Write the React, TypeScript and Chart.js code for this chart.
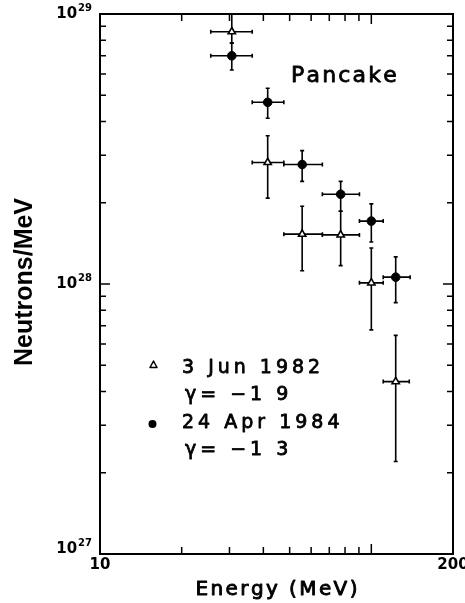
import React, { useEffect, useRef } from "react";
import { Chart, registerables } from "chart.js";

Chart.register(...registerables);

// ---- Text ----
const series1Label = "3 Jun 1982";
const series1Gamma = "γ= −1 9";
const series2Label = "24 Apr 1984";
const series2Gamma = "γ= −1 3";
const annotationText = "Pancake";
const xTitle = "Energy (MeV)";
const yTitle = "Neutrons/MeV";

// ---- Data: 3 Jun 1982 (open triangles) ----
const junEnergy = [30.6, 41.5, 55.6, 77.1, 100, 123];
const junFlux = [8.6e28, 2.82e28, 1.53e28, 1.52e28, 1.01e28, 4.35e27];
const junEnergyLo = [25.6, 36.4, 47.6, 66, 90.4, 110.6];
const junEnergyHi = [36.4, 47.6, 66, 90.4, 110.6, 138];
const junFluxLo = [7.8e28, 2.08e28, 1.12e28, 1.17e28, 6.76e27, 2.2e27];
const junFluxHi = [1.0e29, 3.54e28, 1.94e28, 1.86e28, 1.36e28, 6.45e27];

// ---- Data: 24 Apr 1984 (filled circles) ----
const aprEnergy = [30.6, 41.5, 55.6, 77.1, 100, 123];
const aprFlux = [7.0e28, 4.71e28, 2.77e28, 2.15e28, 1.71e28, 1.06e28];
const aprEnergyLo = [25.6, 36.4, 47.6, 66, 90.4, 110.6];
const aprEnergyHi = [36.4, 47.6, 66, 90.4, 110.6, 139];
const aprFluxLo = [6.2e28, 4.11e28, 2.4e28, 1.86e28, 1.43e28, 8.53e27];
const aprFluxHi = [7.8e28, 5.31e28, 3.12e28, 2.4e28, 1.98e28, 1.26e28];

// ---- Axes ----
const xMin = 10;
const xMax = 200;
const yMin = 1e27;
const yMax = 1e29;
const xTickValues = [20, 30, 40, 50, 60, 70, 80, 90, 100];
const xMajorTicks = [100];
const yTickValues = [
  2e27, 3e27, 4e27, 5e27, 6e27, 7e27, 8e27, 9e27, 1e28,
  2e28, 3e28, 4e28, 5e28, 6e28, 7e28, 8e28, 9e28,
];
const yMajorTicks = [1e28];
const xLabelValues = [10, 200];
const xLabelTexts = ["10", "200"];
const yLabelValues = [1e27, 1e28, 1e29];
const yLabelExponents = ["27", "28", "29"];

function buildPoints(xs: number[], ys: number[], xl: number[], xh: number[], yl: number[], yh: number[]) {
  return xs.map((x, i) => ({ x, y: ys[i], xlo: xl[i], xhi: xh[i], ylo: yl[i], yhi: yh[i] }));
}

function drawSpaced(
  ctx: CanvasRenderingContext2D,
  text: string,
  x: number,
  y: number,
  spacing: number,
  align: "left" | "center" = "left",
  weight = 0.7
) {
  const chars = Array.from(text);
  const widths = chars.map((c) => ctx.measureText(c).width);
  const total = widths.reduce((a, b) => a + b, 0) + spacing * (chars.length - 1);
  let cx = align === "center" ? x - total / 2 : x;
  ctx.textAlign = "left";
  ctx.lineWidth = weight;
  ctx.lineJoin = "round";
  chars.forEach((c, i) => {
    ctx.fillText(c, cx, y);
    if (weight > 0) ctx.strokeText(c, cx, y);
    cx += widths[i] + spacing;
  });
}

const errorBarPlugin = {
  id: "errorBars",
  beforeDatasetsDraw(chart: any) {
    const ctx: CanvasRenderingContext2D = chart.ctx;
    const xs = chart.scales.x;
    const ys = chart.scales.y;
    const cap = 2;
    ctx.save();
    ctx.strokeStyle = "#000";
    ctx.lineWidth = 1.6;
    chart.data.datasets.forEach((ds: any) => {
      ds.data.forEach((p: any) => {
        const px = xs.getPixelForValue(p.x);
        const py = ys.getPixelForValue(p.y);
        const x0 = xs.getPixelForValue(p.xlo);
        const x1 = xs.getPixelForValue(p.xhi);
        const y0 = ys.getPixelForValue(p.ylo);
        const y1 = ys.getPixelForValue(p.yhi);
        ctx.beginPath();
        ctx.moveTo(x0, py);
        ctx.lineTo(x1, py);
        ctx.moveTo(x0, py - cap);
        ctx.lineTo(x0, py + cap);
        ctx.moveTo(x1, py - cap);
        ctx.lineTo(x1, py + cap);
        ctx.moveTo(px, y0);
        ctx.lineTo(px, y1);
        ctx.moveTo(px - cap, y0);
        ctx.lineTo(px + cap, y0);
        ctx.moveTo(px - cap, y1);
        ctx.lineTo(px + cap, y1);
        ctx.stroke();
      });
    });
    ctx.restore();
  },
};

const framePlugin = {
  id: "frame",
  afterDraw(chart: any) {
    const ctx: CanvasRenderingContext2D = chart.ctx;
    const { left, right, top, bottom } = chart.chartArea;
    const xs = chart.scales.x;
    const ys = chart.scales.y;
    ctx.save();
    ctx.strokeStyle = "#000";
    ctx.fillStyle = "#000";

    // frame
    ctx.lineWidth = 2;
    ctx.strokeRect(left, top, right - left, bottom - top);

    // ticks (inward, on all four sides)
    ctx.lineWidth = 1.5;
    ctx.beginPath();
    xTickValues.forEach((v) => {
      const px = xs.getPixelForValue(v);
      const len = xMajorTicks.includes(v) ? 10 : 7;
      ctx.moveTo(px, bottom);
      ctx.lineTo(px, bottom - len);
      ctx.moveTo(px, top);
      ctx.lineTo(px, top + len);
    });
    yTickValues.forEach((v) => {
      const py = ys.getPixelForValue(v);
      const len = yMajorTicks.includes(v) ? 10 : 6;
      ctx.moveTo(left, py);
      ctx.lineTo(left + len, py);
      ctx.moveTo(right, py);
      ctx.lineTo(right - len, py);
    });
    ctx.stroke();

    // y tick labels: 10^n
    ctx.textBaseline = "middle";
    yLabelValues.forEach((v, i) => {
      let py = ys.getPixelForValue(v);
      if (i === 0) py -= 5;
      const exp = yLabelExponents[i];
      ctx.font = "bold 10px 'DejaVu Sans'";
      const ew = ctx.measureText(exp).width;
      const expX = left - 8 - ew;
      ctx.textAlign = "left";
      ctx.fillText(exp, expX, py - 6);
      ctx.font = "bold 15px 'DejaVu Sans'";
      ctx.textAlign = "right";
      ctx.fillText("10", expX - 1, py);
    });

    // x tick labels
    ctx.font = "bold 15px 'DejaVu Sans'";
    ctx.textAlign = "center";
    ctx.textBaseline = "middle";
    xLabelValues.forEach((v, i) => {
      ctx.fillText(xLabelTexts[i], xs.getPixelForValue(v), bottom + 11);
    });

    // x title
    ctx.font = "20px 'DejaVu Sans'";
    ctx.textBaseline = "alphabetic";
    drawSpaced(ctx, xTitle, (left + right) / 2, 595, 2.4, "center", 0.9);

    // y title
    ctx.save();
    ctx.translate(32, 282);
    ctx.rotate(-Math.PI / 2);
    ctx.font = "bold 25px 'Liberation Sans'";
    ctx.textAlign = "center";
    ctx.textBaseline = "alphabetic";
    ctx.fillText(yTitle, 0, 0);
    ctx.restore();

    // annotation
    ctx.font = "22px 'DejaVu Sans'";
    ctx.textBaseline = "alphabetic";
    drawSpaced(ctx, annotationText, 291, 82, 2.2, "left", 0.8);

    // legend
    ctx.font = "19px 'DejaVu Sans'";
    ctx.textBaseline = "alphabetic";
    drawSpaced(ctx, series1Label, 182, 373, 4.0, "left", 0.8);
    drawSpaced(ctx, series1Gamma, 185, 400, 4.0, "left", 0.8);
    drawSpaced(ctx, series2Label, 182, 428, 4.0, "left", 0.8);
    drawSpaced(ctx, series2Gamma, 185, 455, 4.0, "left", 0.8);

    // legend markers
    ctx.lineWidth = 1.5;
    ctx.fillStyle = "#fff";
    ctx.beginPath();
    ctx.moveTo(153.5, 361);
    ctx.lineTo(157, 367.5);
    ctx.lineTo(150, 367.5);
    ctx.closePath();
    ctx.fill();
    ctx.stroke();
    ctx.fillStyle = "#000";
    ctx.beginPath();
    ctx.arc(152.5, 424, 4, 0, Math.PI * 2);
    ctx.fill();

    ctx.restore();
  },
};

export default function App() {
  const canvasRef = useRef<HTMLCanvasElement | null>(null);

  useEffect(() => {
    document.body.style.margin = "0";
    const canvas = canvasRef.current;
    if (!canvas) return;
    const chart = new Chart(canvas, {
      type: "scatter",
      data: {
        datasets: [
          {
            label: series1Label,
            data: buildPoints(junEnergy, junFlux, junEnergyLo, junEnergyHi, junFluxLo, junFluxHi) as any,
            pointStyle: "triangle",
            pointRadius: 4.2,
            backgroundColor: "#fff",
            borderColor: "#000",
            borderWidth: 1.6,
          },
          {
            label: series2Label,
            data: buildPoints(aprEnergy, aprFlux, aprEnergyLo, aprEnergyHi, aprFluxLo, aprFluxHi) as any,
            pointStyle: "circle",
            pointRadius: 4.3,
            backgroundColor: "#000",
            borderColor: "#000",
            borderWidth: 1,
          },
        ],
      },
      options: {
        responsive: false,
        animation: false,
        events: [],
        layout: { padding: { left: 100, right: 12, top: 14, bottom: 49 } },
        scales: {
          x: { type: "logarithmic", min: xMin, max: xMax, display: false },
          y: { type: "logarithmic", min: yMin, max: yMax, display: false },
        },
        plugins: {
          legend: { display: false },
          tooltip: { enabled: false },
        },
      },
      plugins: [errorBarPlugin, framePlugin],
    });
    return () => chart.destroy();
  }, []);

  return (
    <div style={{ position: "absolute", left: 0, top: 0, width: 465, height: 603, background: "#fff" }}>
      <canvas ref={canvasRef} width={465} height={603} style={{ display: "block", width: 465, height: 603 }} />
    </div>
  );
}
